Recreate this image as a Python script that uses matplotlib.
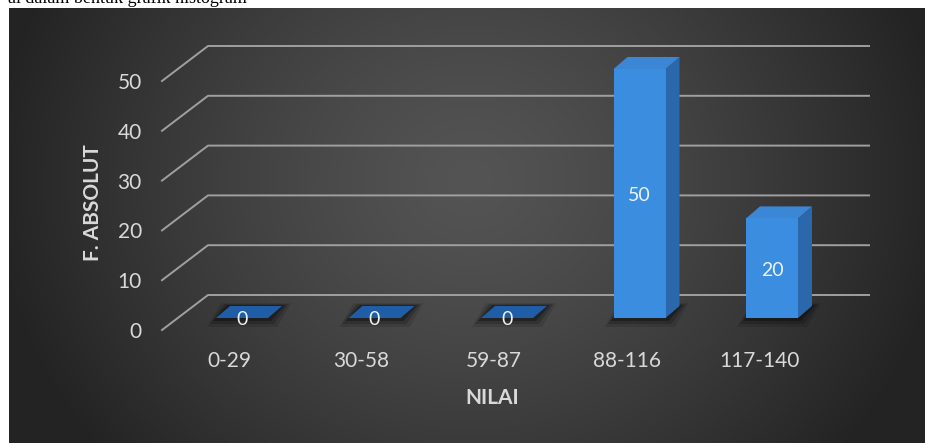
import numpy as np
import matplotlib
matplotlib.use('Agg')
import matplotlib.pyplot as plt
from matplotlib.patches import Polygon
from matplotlib.transforms import ScaledTranslation

# data
categories = ['0-29', '30-58', '59-87', '88-116', '117-140']
frequencies = [0, 0, 0, 50, 20]
y_ticks = [0, 10, 20, 30, 40, 50]

plt.rcParams['font.family'] = ['Lato', 'DejaVu Sans']

W, H, DPI = 925, 443, 100
fig = plt.figure(figsize=(W / DPI, H / DPI), dpi=DPI, facecolor='white')

# dark background panel with a soft light spot in the middle
bg = fig.add_axes([0, 0, 1, 1])
yy, xx = np.mgrid[8:H, 9:W]
r = np.sqrt(((xx - 470) / 480.0) ** 2 + ((yy - 180) / 430.0) ** 2)
r = np.clip(r, 0, 1) ** 1.3
light, dark = 0x54 / 255, 0x23 / 255
img = light + (dark - light) * r
bg.imshow(np.dstack([img] * 3), extent=(9, W, H, 8), aspect='auto',
          interpolation='bilinear')
bg.set_xlim(0, W)
bg.set_ylim(H, 0)
bg.axis('off')
# line of document text cut off above the chart
bg.text(247, 3, 'ai dalam bentuk grafik histogram', ha='right', va='baseline',
        family='Liberation Serif', fontsize=13, color='black')

# main axes: front plane of the bars
SX, SY = 132.5, 4.98          # pixels per category / per count
x0 = -(242 - 162) / SX
x1 = 4 + (869 - 772) / SX
ax = fig.add_axes([162 / W, (H - 318) / H, (x1 - x0) * SX / W, 55 * SY / H])
ax.set_xlim(x0, x1)
ax.set_ylim(0, 55)
ax.patch.set_alpha(0)
for s in ax.spines.values():
    s.set_visible(False)

# 3d offsets (in data units)
bar_dx, bar_dy = 14 / SX, 12 / SY
wall_dx, wall_up, wall_down = 46 / SX, 23 / SY, 12 / SY

# back wall gridlines with the floor diagonal
for v in y_ticks:
    ax.plot([x0, x0 + wall_dx, x1], [v - wall_down, v + wall_up, v + wall_up],
            color='#a0a0a0', lw=1.4, clip_on=False, zorder=1)

x = np.arange(len(categories))
w = 52 / SX
for xi, v in zip(x, frequencies):
    l, rt = xi - w / 2, xi + w / 2
    # blurred shadow on the floor
    for k, a in [(9, 0.12), (6, 0.18), (3, 0.3)]:
        ax.add_patch(Polygon([(l - k / SX, -k / SY), (rt + k / SX, -k / SY),
                              (rt + bar_dx + k / SX, bar_dy + k / SY * 0.3),
                              (l + bar_dx - k / SX, bar_dy + k / SY * 0.3)],
                             closed=True, color='black', alpha=a, lw=0,
                             clip_on=False, zorder=2))
    if v > 0:
        ax.add_patch(Polygon([(rt, 0), (rt + bar_dx, bar_dy),
                              (rt + bar_dx, v + bar_dy), (rt, v)],
                             closed=True, color='#2b68ab', lw=0, zorder=3))
    top_color = '#3c86d6' if v > 0 else '#1f5ea6'
    ax.add_patch(Polygon([(l, v), (rt, v), (rt + bar_dx, v + bar_dy),
                          (l + bar_dx, v + bar_dy)],
                         closed=True, color=top_color, lw=0, zorder=3,
                         clip_on=False))

ax.bar(x, frequencies, width=w, color='#3a8ddf', lw=0, zorder=4)

for xi, v in zip(x, frequencies):
    ax.text(xi, v / 2 - 0.4, str(v), ha='center', va='center',
            color='#eef2f6', fontsize=14, zorder=5, clip_on=False)

# ticks
ax.set_xticks(x, categories)
ax.set_yticks(y_ticks)
ax.tick_params(length=0, colors='#d9d9d9', labelsize=15)
ax.tick_params(axis='x', pad=31)
ax.tick_params(axis='y', pad=14.5)
for lbl in ax.get_xticklabels():
    lbl.set_va('center')
    lbl.set_transform(lbl.get_transform() + ScaledTranslation(-0.13, 0, fig.dpi_scale_trans))
for lbl in ax.get_yticklabels():
    lbl.set_transform(lbl.get_transform() + ScaledTranslation(0, -0.12, fig.dpi_scale_trans))

ax.set_ylabel('F. ABSOLUT', fontweight='bold', color='#d9d9d9', fontsize=15, va='center')
ax.yaxis.set_label_coords((93 - 162) / ((x1 - x0) * SX), (318 - 203) / (55 * SY))
ax.set_xlabel('NILAI', fontweight='bold', color='#d9d9d9', fontsize=15, va='center')
ax.xaxis.set_label_coords((492 - 162) / ((x1 - x0) * SX), (318 - 398) / (55 * SY))

plt.savefig('out.png', dpi=DPI)
